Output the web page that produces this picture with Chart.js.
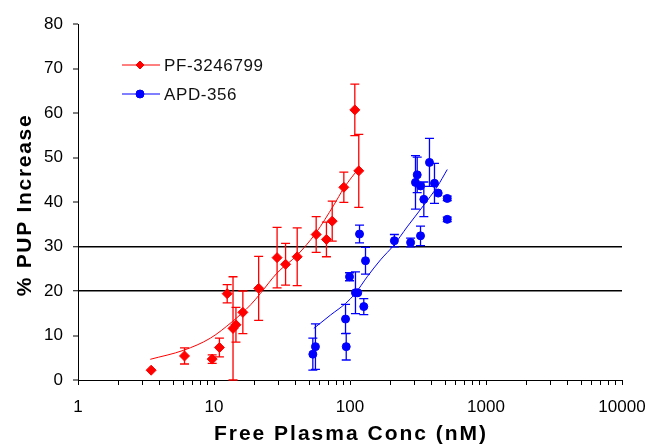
<!DOCTYPE html>
<html>
<head>
<meta charset="utf-8">
<script src="https://cdn.jsdelivr.net/npm/chart.js@4.4.1/dist/chart.umd.min.js"></script>
<style>
  html, body { margin: 0; padding: 0; background: #fff; }
  #wrap { width: 651px; height: 446px; position: relative; }
</style>
</head>
<body>
<div id="wrap"><canvas id="c" width="651" height="446"></canvas></div>
<script>
// ---- data ----
const redName = 'PF-3246799';
const redX   = [3.45, 6.07, 9.7, 10.96, 12.5, 13.8, 14.5, 16.3, 21.3, 29.1, 33.6, 40.9, 56.4, 67.1, 74.0, 90.1, 108.5, 116];
const redY   = [2.2, 5.4, 4.7, 7.3, 19.4, 11.6, 12.4, 15.2, 20.6, 27.5, 26.0, 27.7, 32.7, 31.6, 35.7, 43.3, 60.7, 47.0];
const redErr = [0, 1.8, 0.95, 2.1, 2.05, 11.6, 3.9, 4.8, 7.2, 6.8, 4.7, 6.5, 4.0, 3.9, 4.5, 3.4, 5.8, 8.2];

const blueName = 'APD-356';
const blueX   = [53.3, 55.7, 92.7, 93.8, 99.2, 109.7, 114, 117.5, 126.3, 130, 212, 279, 303, 312, 330, 330, 349, 384, 418, 445, 519, 519];
const blueY   = [5.8, 7.5, 13.7, 7.5, 23.2, 19.6, 19.6, 32.8, 16.5, 26.8, 31.3, 30.9, 44.4, 46.1, 43.6, 32.4, 40.6, 48.9, 44.2, 42.0, 40.8, 36.1];
const blueErr = [3.6, 5.1, 3.3, 3.0, 0.9, 4.7, 0, 2.0, 1.8, 3.0, 1.4, 1.0, 6.0, 4.0, 0, 2.2, 3.9, 5.4, 4.5, 0, 0.5, 0.5];

const redFitX = [3.4, 6.0, 9.4, 13.6, 18.6, 22, 29, 41, 56, 76, 90, 116];
const redFitY = [4.65, 6.7, 9.4, 13.1, 16.9, 19.5, 24, 28.1, 33, 39.3, 43.1, 47.6];
const blueFitX = [54.2, 71.9, 92.7, 109.6, 133.8, 167.6, 210, 263, 349, 437, 519];
const blueFitY = [11.6, 14.6, 17.2, 19.5, 23.2, 27, 30.3, 34.4, 39.3, 43.4, 47.3];

const refLines = [20, 30];
const xMajorTicks = [1, 10, 100, 1000, 10000];
const xTickLabels = ['1', '10', '100', '1000', '10000'];
const yTickValues = [0, 10, 20, 30, 40, 50, 60, 70, 80];
const xTitle = 'Free Plasma Conc (nM)';
const yTitle = '% PUP Increase';

// ---- build ----
const RED = '#ff0000', BLUE = '#0000ff';
const FONT = '"Liberation Sans", Arial, sans-serif';
const zip = (xs, ys) => xs.map((x, i) => ({ x, y: ys[i] }));

const xTickValues = [];
for (let d = 0; d < xMajorTicks.length; d++) {
  const base = xMajorTicks[d];
  if (d === xMajorTicks.length - 1) { xTickValues.push(base); break; }
  for (let k = 1; k <= 9; k++) xTickValues.push(base * k);
}

const errorBars = {
  id: 'errorBars',
  beforeDatasetsDraw(chart) {
    const ctx = chart.ctx, xs = chart.scales.x, ys = chart.scales.y;
    const sets = [[redX, redY, redErr, RED], [blueX, blueY, blueErr, BLUE]];
    ctx.save();
    ctx.lineWidth = 1.3;
    for (const [X, Y, E, col] of sets) {
      ctx.strokeStyle = col;
      for (let i = 0; i < X.length; i++) {
        if (!E[i]) continue;
        const px = xs.getPixelForValue(X[i]);
        const top = ys.getPixelForValue(Y[i] + E[i]);
        const bot = ys.getPixelForValue(Math.max(0, Y[i] - E[i]));
        ctx.beginPath();
        ctx.moveTo(px, top); ctx.lineTo(px, bot);
        ctx.moveTo(px - 4.5, top); ctx.lineTo(px + 4.5, top);
        ctx.moveTo(px - 4.5, bot); ctx.lineTo(px + 4.5, bot);
        ctx.stroke();
      }
    }
    ctx.restore();
  }
};

const decor = {
  id: 'decor',
  afterDraw(chart) {
    const ctx = chart.ctx, a = chart.chartArea;
    ctx.save();
    // legend
    const items = [[redName, RED, 'rectRot', 65], [blueName, BLUE, 'circle', 94]];
    for (const [name, col, style, y] of items) {
      ctx.strokeStyle = col; ctx.lineWidth = 1;
      ctx.beginPath(); ctx.moveTo(122, y); ctx.lineTo(160, y); ctx.stroke();
      ctx.fillStyle = col;
      Chart.helpers.drawPoint(ctx, { pointStyle: style, radius: 4, borderWidth: 1 }, 140, y);
      ctx.fill();
      ctx.fillStyle = '#111';
      ctx.font = '17px ' + FONT;
      ctx.letterSpacing = '0.6px';
      ctx.textAlign = 'left'; ctx.textBaseline = 'middle';
      ctx.fillText(name, 164, y + 1);
    }
    // axis titles
    ctx.fillStyle = '#000';
    ctx.font = 'bold 21px ' + FONT;
    ctx.textAlign = 'center'; ctx.textBaseline = 'middle';
    ctx.letterSpacing = '2px';
    ctx.fillText(xTitle, (a.left + a.right) / 2 + 1, 434);
    ctx.save();
    ctx.translate(25, 206);
    ctx.rotate(-Math.PI / 2);
    ctx.letterSpacing = '1.7px';
    ctx.fillText(yTitle, 1, 0);
    ctx.restore();
    ctx.restore();
  }
};

new Chart(document.getElementById('c'), {
  type: 'scatter',
  data: {
    datasets: [
      { label: redName + ' fit', data: zip(redFitX, redFitY), showLine: true, borderColor: RED, borderWidth: 1,
        pointRadius: 0, tension: 0.4, cubicInterpolationMode: 'monotone', order: 3 },
      { label: blueName + ' fit', data: zip(blueFitX, blueFitY), showLine: true, borderColor: BLUE, borderWidth: 1,
        pointRadius: 0, tension: 0.4, cubicInterpolationMode: 'monotone', order: 3 },
      { label: redName, data: zip(redX, redY), pointStyle: 'rectRot', pointRadius: 5, borderWidth: 1,
        backgroundColor: RED, borderColor: RED, order: 1 },
      { label: blueName, data: zip(blueX, blueY), pointStyle: 'circle', pointRadius: 4, borderWidth: 1,
        backgroundColor: BLUE, borderColor: BLUE, order: 2 }
    ]
  },
  options: {
    responsive: false,
    animation: false,
    layout: { padding: { top: 24, right: 29, left: 0, bottom: 0 } },
    plugins: { legend: { display: false }, tooltip: { enabled: false }, title: { display: false } },
    scales: {
      x: {
        type: 'logarithmic', min: 1, max: 10000,
        afterFit: s => { s.height = 66; s.paddingLeft = 0; s.paddingRight = 0; },
        afterBuildTicks: s => { s.ticks = xTickValues.map(v => ({ value: v, major: xMajorTicks.includes(v) })); },
        border: { display: true, color: '#000', width: 1 },
        grid: { drawOnChartArea: false, drawTicks: true, tickLength: 5, tickColor: '#000', tickWidth: 1 },
        ticks: {
          autoSkip: false, maxRotation: 0, padding: 12, color: '#000',
          font: { family: FONT, size: 17 },
          callback: v => { const i = xMajorTicks.indexOf(v); return i >= 0 ? xTickLabels[i] : ''; }
        }
      },
      y: {
        type: 'linear', min: 0, max: 80,
        afterFit: s => { s.width = 78; s.paddingTop = 0; s.paddingBottom = 0; },
        afterBuildTicks: s => { s.ticks = yTickValues.map(v => ({ value: v })); },
        border: { display: true, color: '#000', width: 1 },
        grid: {
          drawOnChartArea: true, drawTicks: true, tickLength: 5, tickColor: '#000', tickWidth: 1,
          color: c => refLines.includes(c.tick && c.tick.value) ? '#000' : 'rgba(0,0,0,0)',
          lineWidth: c => refLines.includes(c.tick && c.tick.value) ? 1.5 : 0
        },
        ticks: { padding: 10, color: '#000', font: { family: FONT, size: 17 } }
      }
    }
  },
  plugins: [errorBars, decor]
});
</script>
</body>
</html>
